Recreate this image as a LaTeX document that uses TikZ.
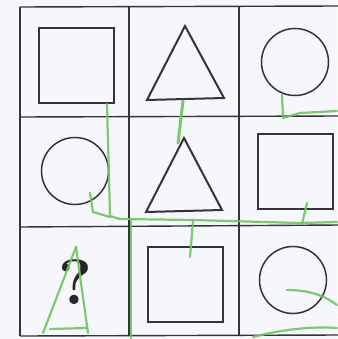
\documentclass[tikz,border=0pt]{standalone}
\usepackage{xcolor}
\definecolor{ink}{RGB}{52,52,56}
\definecolor{pen}{RGB}{112,196,96}
\definecolor{paper}{RGB}{246,247,250}
\begin{document}
\begin{tikzpicture}[x=1pt,y=-1pt,
  gridline/.style={draw=ink,line width=1.4pt},
  sq/.style={draw=ink,line width=2pt,minimum size=75pt,inner sep=0pt,shape=rectangle},
  circ/.style={draw=ink,line width=1.5pt,minimum size=67pt,inner sep=0pt,shape=circle},
  tri/.style={draw=ink,line width=2pt,line join=miter},
  scribble/.style={draw=pen,line width=2.2pt,line cap=round,line join=round,opacity=0.9}]
\fill[paper] (0,0) rectangle (337,339);
\useasboundingbox (0,0) rectangle (337,339);
% grid
\draw[gridline] (20,7) -- (340,6);
\draw[gridline] (20,117) -- (340,116);
\draw[gridline] (20,227) -- (340,225);
\draw[gridline] (20,336) -- (340,335);
\draw[gridline] (20,7) -- (20,336);
\draw[gridline] (129,7) -- (129,336);
\draw[gridline] (239,6) -- (239,336);
% shapes
\node[sq] (s11) at (76.5,65.5) {};
\draw[tri] (185,26) -- (224,98) -- (147,100) -- cycle;
\coordinate (t12) at (185,75);
\node[circ] (c13) at (295,62) {};
\node[circ] (c21) at (75,171) {};
\draw[tri] (184,138) -- (222,210) -- (146,212) -- cycle;
\coordinate (t22) at (184,185);
\node[sq] (s23) at (295,171.5) {};
\node[text=black!85,inner sep=0pt] (q) at (75,282) {\fontsize{64}{66}\selectfont\bfseries ?};
\node[sq] (s32) at (185.5,284.5) {};
\node[circ] (c33) at (293,280) {};
% green pen marks
\draw[scribble] (107,104) -- (110,216) -- (120,219) -- (193,220) -- (300,223) -- (337,222);
\draw[scribble] (90,193) -- (93,212) -- (110,217);
\draw[scribble] (193,221) -- (190,257);
\draw[scribble,line width=3pt] (183,101) -- (178,143);
\draw[scribble] (282,95) -- (283,118) -- (300,113) -- (337,111);
\draw[scribble] (307,203) -- (302,224);
\draw[scribble] (131,221) -- (131,339);
\draw[scribble] (76,247) -- (43,333);
\draw[scribble] (76,247) -- (88,333);
\draw[scribble] (50,329) -- (87,328);
\draw[scribble] (287,290) .. controls (310,290) and (325,296) .. (337,305);
\draw[scribble] (253,337) .. controls (280,330) and (310,326) .. (337,328);
\end{tikzpicture}
\end{document}
